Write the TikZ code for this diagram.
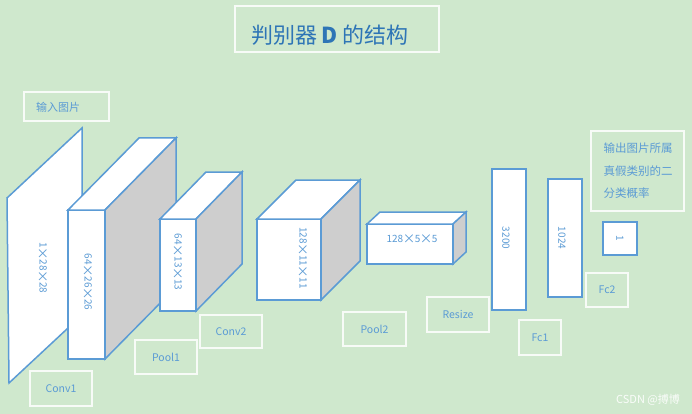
\documentclass[tikz,border=0pt]{standalone}
\usepackage{graphicx}
\usepackage{fontspec}
\setmainfont{Noto Sans CJK SC}
\definecolor{bg}{RGB}{207,232,205}
\definecolor{edgeblue}{RGB}{91,155,213}
\definecolor{sidegray}{RGB}{206,206,206}
\definecolor{txtblue}{RGB}{91,155,213}
\definecolor{ttlblue}{RGB}{46,117,182}
\newcommand{\tms}{\makebox[11.5pt]{\raisebox{-0.9pt}{\scalebox{1.25}{×}}}}
\tikzset{
  face/.style={fill=white, draw=edgeblue, line width=1.5pt, line join=miter},
  sideface/.style={fill=sidegray, draw=edgeblue, line width=1.5pt, line join=miter},
  frontbox/.style={face, rectangle, inner sep=0pt, outer sep=0pt, anchor=north west},
  dimtext/.style={text=txtblue, font=\fontsize{10}{12}\selectfont, inner sep=0pt},
  labelbox/.style={draw=white, draw opacity=0.85, line width=1.1pt, rectangle, inner sep=0pt, outer sep=0pt,
     text=txtblue, font=\fontsize{10.5}{12}\selectfont, anchor=north west},
  cjktext/.style={text=txtblue, font=\fontsize{11.5}{22.5}\selectfont},
}
% #1 name, #2 x, #3 y, #4 width, #5 height, #6 dx, #7 dy
\newcommand{\mycuboid}[7]{%
  \node[frontbox, minimum width=#4pt, minimum height=#5pt] (#1) at (#2,#3) {};
  \draw[face] (#1.north west) -- ++(#6,-#7) -- ++(#4,0) -- (#1.north east) -- cycle;
  \draw[sideface] (#1.north east) -- ++(#6,-#7) -- ++(0,#5) -- (#1.south east) -- cycle;
}
\begin{document}
\begin{tikzpicture}[x=1pt,y=-1pt]
  \fill[bg] (0,0) rectangle (692,414);
  \useasboundingbox (0,0) rectangle (692,414);

  % title
  \node[labelbox, minimum width=204pt, minimum height=46pt] (titlebox) at (235,6) {};
  \node[text=ttlblue, font=\fontsize{22}{24}\selectfont] (title) at (330,35) {判别器 \textbf{D} 的结构};

  % input label
  \node[labelbox, minimum width=85pt, minimum height=29pt] (inbox) at (24,92) {};
  \node[cjktext, font=\fontsize{11}{13}\selectfont] (intext) at (58,107) {输入图片};

  % input plane
  \coordinate (p1) at (7,198);
  \coordinate (p2) at (82,128);
  \coordinate (p3) at (82,315);
  \coordinate (p4) at (9,383);
  \draw[face] (p1) -- (p2) -- (p3) -- (p4) -- cycle;
  \node[dimtext, rotate=-90] (t0) at (43,268) {1\tms28\tms28};

  % cuboids
  \mycuboid{c1}{68}{210}{37}{149}{71}{72}
  \node[dimtext, rotate=-90] (t1) at (88,282) {64\tms26\tms26};
  \mycuboid{c2}{160}{219}{36}{92}{46}{47}
  \node[dimtext, rotate=-90] (t2) at (178,262) {64\tms13\tms13};
  \mycuboid{c3}{257}{219}{64}{81}{39}{39}
  \node[dimtext, rotate=-90] (t3) at (303,258) {128\tms11\tms11};
  \mycuboid{c4}{367}{224}{86}{40}{13}{12}
  \node[dimtext] (t4) at (412,239) {128\tms5\tms5};

  % fully connected bars
  \node[frontbox, minimum width=34pt, minimum height=141pt] (fc1bar) at (492,169) {};
  \node[dimtext, rotate=-90] (t5) at (506,238) {3200};
  \node[frontbox, minimum width=34pt, minimum height=118pt] (fc2bar) at (548,179) {};
  \node[dimtext, rotate=-90] (t6) at (562,238) {1024};
  \node[frontbox, minimum width=34pt, minimum height=33pt] (outbox) at (603,222) {};
  \node[dimtext, rotate=-90] (t7) at (620,238) {1};

  % output description
  \node[labelbox, minimum width=93pt, minimum height=80pt] (descbox) at (591,131) {};
  \node[cjktext, anchor=west] (d1) at (600,148) {输出图片所属};
  \node[cjktext, anchor=west] (d2) at (600,171) {真假类别的二};
  \node[cjktext, anchor=west] (d3) at (600,193) {分类概率};

  % layer labels
  \node[labelbox, minimum width=62pt, minimum height=35pt] (conv1) at (30,371) {Conv1};
  \node[labelbox, minimum width=62pt, minimum height=34pt] (pool1) at (135,340) {Pool1};
  \node[labelbox, minimum width=62pt, minimum height=33pt] (conv2) at (200,315) {Conv2};
  \node[labelbox, minimum width=63pt, minimum height=34pt] (pool2) at (343,312) {Pool2};
  \node[labelbox, minimum width=62pt, minimum height=35pt] (resize) at (427,297) {Resize};
  \node[labelbox, minimum width=42pt, minimum height=35pt] (fc1) at (519,320) {Fc1};
  \node[labelbox, minimum width=42pt, minimum height=34pt] (fc2) at (586,273) {Fc2};

  % watermark
  \node[text=white, text opacity=0.9, font=\fontsize{11}{12}\selectfont] (wm) at (648,400) {CSDN @搏博};
\end{tikzpicture}
\end{document}
